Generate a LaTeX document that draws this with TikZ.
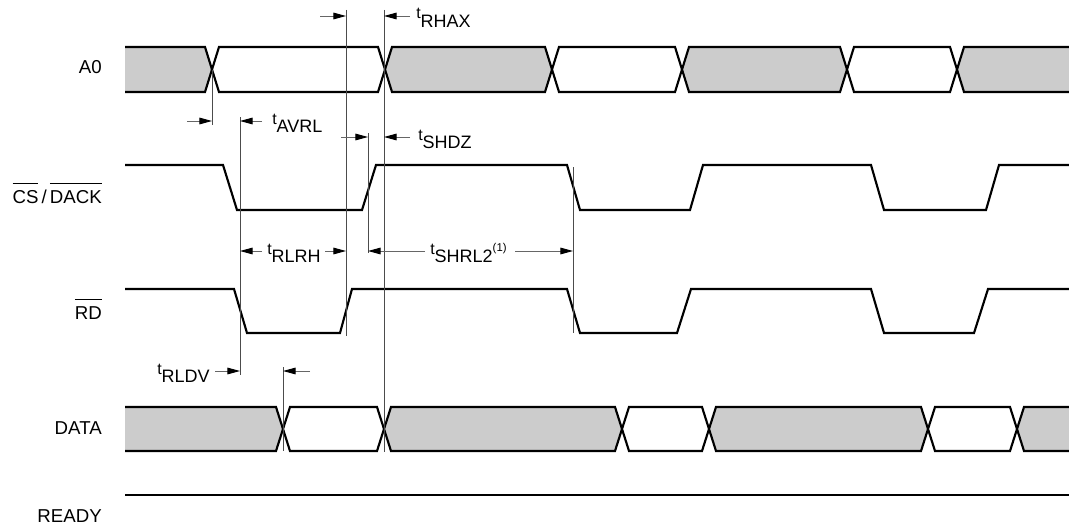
\documentclass[tikz,border=0pt]{standalone}
\usepackage{fontspec}
\setmainfont{Liberation Sans}
\usetikzlibrary{arrows.meta}
\definecolor{busgray}{gray}{0.8}
\newcommand{\tsig}[1]{{\fontsize{12}{13}\selectfont t}\raisebox{-6.5pt}{\fontsize{13.5}{15}\selectfont #1}}
\newcommand{\ovl}[1]{\setbox0\hbox{#1}\rlap{\rule[14pt]{\wd0}{0.8pt}}\box0}

\begin{document}
\begin{tikzpicture}[x=0.75pt, y=-0.75pt,
  sig/.style={line width=1.6pt, line join=miter},
  vref/.style={line width=0.7pt, black!70},
  dim/.style={-{Triangle[length=9.5pt,width=5pt,black]}, line width=0.7pt, black!60},
  signame/.style={anchor=base east, inner sep=0, font=\fontsize{14}{16}\selectfont},
  tlab/.style={anchor=base west, inner sep=0}]
\useasboundingbox (0,0) rectangle (1069,528);

\node[signame] (a0) at (102,74) {A0};
\node[signame] (cs) at (102,203) {\ovl{CS}\,/\,\ovl{DACK}};
\node[signame] (rd) at (102,319) {\ovl{RD}};
\node[signame] (data) at (102,434) {DATA};
\node[signame] (ready) at (102,522) {READY};

% A0
\fill[busgray] (125,47) -- (205,47) -- (212,69.5) -- (205,92) -- (125,92) -- cycle;
\draw[sig] (125,47) -- (205,47) -- (212,69.5) -- (205,92) -- (125,92);
\foreach \a/\b/\c in {212/385/white, 385/552/busgray, 552/682/white, 682/847/busgray, 847/957/white}
  \filldraw[sig, fill=\c] (\a,69.5) -- (\a+7,47) -- (\b-7,47) -- (\b,69.5) -- (\b-7,92) -- (\a+7,92) -- cycle;
\fill[busgray] (1069,47) -- (964,47) -- (957,69.5) -- (964,92) -- (1069,92) -- cycle;
\draw[sig] (1069,47) -- (964,47) -- (957,69.5) -- (964,92) -- (1069,92);

% CS/DACK
\draw[sig] (125,165) -- (223,165) -- (237,210) -- (362,210) -- (376,165) -- (567,165) -- (580,210)
  -- (690,210) -- (703,165) -- (871,165) -- (884,210) -- (986,210) -- (999,165) -- (1069,165);

% RD
\draw[sig] (125,289) -- (234,289) -- (247,333) -- (340,333) -- (352,289) -- (567,289) -- (580,333)
  -- (677,333) -- (691,289) -- (871,289) -- (884,333) -- (974,333) -- (988,289) -- (1069,289);

% DATA
\fill[busgray] (125,407) -- (276,407) -- (283,429) -- (276,451) -- (125,451) -- cycle;
\draw[sig] (125,407) -- (276,407) -- (283,429) -- (276,451) -- (125,451);
\foreach \a/\b/\c in {283/384/white, 384/622/busgray, 622/709/white, 709/928/busgray, 928/1017/white}
  \filldraw[sig, fill=\c] (\a,429) -- (\a+7,407) -- (\b-7,407) -- (\b,429) -- (\b-7,451) -- (\a+7,451) -- cycle;
\fill[busgray] (1069,407) -- (1024,407) -- (1017,429) -- (1024,451) -- (1069,451) -- cycle;
\draw[sig] (1069,407) -- (1024,407) -- (1017,429) -- (1024,451) -- (1069,451);

% READY
\draw[sig] (125,495) -- (1069,495);

% reference lines
\coordinate (v1t) at (212,70);  \coordinate (v1b) at (212,125);
\coordinate (v2t) at (240,117); \coordinate (v2b) at (240,375);
\coordinate (v3t) at (346,10);  \coordinate (v3b) at (346,336);
\coordinate (v4t) at (368,133); \coordinate (v4b) at (368,253);
\coordinate (v5t) at (384,10);  \coordinate (v5b) at (384,452);
\coordinate (v6t) at (573,167); \coordinate (v6b) at (573,333);
\coordinate (v7t) at (283,367); \coordinate (v7b) at (283,451);
\foreach \v in {v1,v2,v3,v4,v5,v6,v7}
  \draw[vref] (\v t) -- (\v b);

% timing labels
\node[tlab] (rhax) at (416,19) {\tsig{RHAX}};
\node[tlab] (avrl) at (272,124) {\tsig{AVRL}};
\node[tlab] (shdz) at (418,140) {\tsig{SHDZ}};
\node[tlab] (rlrh) at (267,254) {\tsig{RLRH}};
\node[tlab] (shrl) at (430,254) {\tsig{SHRL2}\raisebox{2pt}{\fontsize{8.5}{9}\selectfont (1)}};
\node[tlab] (rldv) at (157,374) {\tsig{RLDV}};

\coordinate (a1) at (320,16);  \coordinate (a2) at (410,16);
\coordinate (a3) at (187,121); \coordinate (a4) at (262,121);
\coordinate (a5) at (341,137); \coordinate (a6) at (410,137);
\coordinate (a7) at (262,251); \coordinate (a8) at (325,251);
\coordinate (a9) at (425,251); \coordinate (a10) at (515,251);
\coordinate (a11) at (215,371); \coordinate (a12) at (310,371);

\path (a1) edge[dim] (a1 -| v3t);
\path (a2) edge[dim] (a2 -| v5t);
\path (a3) edge[dim] (a3 -| v1t);
\path (a4) edge[dim] (a4 -| v2t);
\path (a5) edge[dim] (a5 -| v4t);
\path (a6) edge[dim] (a6 -| v5t);
\path (a7) edge[dim] (a7 -| v2t);
\path (a8) edge[dim] (a8 -| v3t);
\path (a9) edge[dim] (a9 -| v4t);
\path (a10) edge[dim] (a10 -| v6t);
\path (a11) edge[dim] (a11 -| v2t);
\path (a12) edge[dim] (a12 -| v7t);
\end{tikzpicture}
\end{document}
